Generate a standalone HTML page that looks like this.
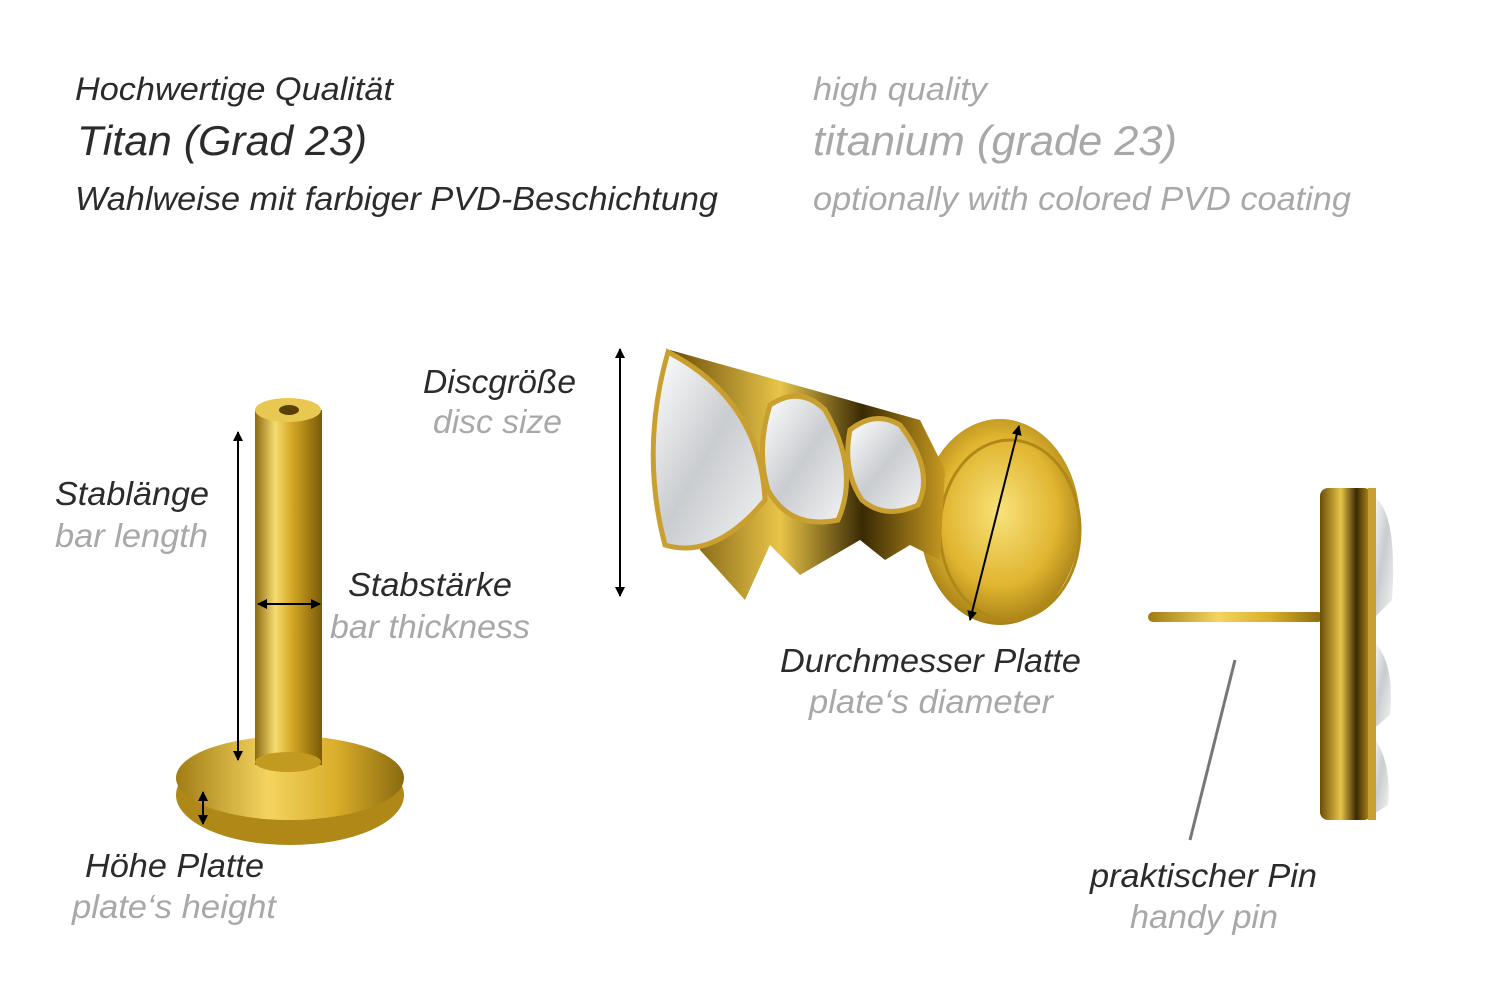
<!DOCTYPE html>
<html><head><meta charset="utf-8"><style>
html,body{margin:0;padding:0;background:#fff;width:1500px;height:1001px;overflow:hidden}
svg{display:block}
text{font-family:"Liberation Sans",sans-serif;font-style:italic}
.k{fill:#2b2b2b}.g{fill:#a8a8a8}
</style></head><body>
<svg width="1500" height="1001" viewBox="0 0 1500 1001">
<defs>
<linearGradient id="bar" x1="0" x2="1"><stop offset="0" stop-color="#8a6a10"/><stop offset=".3" stop-color="#f6dc70"/><stop offset=".55" stop-color="#d4a824"/><stop offset="1" stop-color="#7a5a08"/></linearGradient>
<linearGradient id="plate" x1="0" x2="1"><stop offset="0" stop-color="#a07c14"/><stop offset=".4" stop-color="#f4d460"/><stop offset=".7" stop-color="#d9ae2a"/><stop offset="1" stop-color="#8a6a10"/></linearGradient>
<radialGradient id="disc" cx=".5" cy=".45" r=".6"><stop offset="0" stop-color="#f8e27a"/><stop offset=".6" stop-color="#e0b530"/><stop offset="1" stop-color="#9a7410"/></radialGradient>
<linearGradient id="side" x1="0" x2="1"><stop offset="0" stop-color="#6a4e08"/><stop offset=".4" stop-color="#e8c448"/><stop offset=".7" stop-color="#3a2a04"/><stop offset="1" stop-color="#c89a20"/></linearGradient>
<linearGradient id="cry" x1="0" x2="1" y1="0" y2="1"><stop offset="0" stop-color="#ffffff"/><stop offset=".5" stop-color="#c9ccd0"/><stop offset="1" stop-color="#f3f3f3"/></linearGradient>
<marker id="a" viewBox="0 0 10 10" refX="9" refY="5" markerWidth="5" markerHeight="5" orient="auto-start-reverse"><path d="M0,0L10,5L0,10z" fill="#000"/></marker>
</defs>

<g lengthAdjust="spacingAndGlyphs">
<text x="75" y="100" font-size="32" class="k" textLength="318" lengthAdjust="spacingAndGlyphs">Hochwertige Qualität</text>
<text x="77" y="155" font-size="42" class="k" textLength="290" lengthAdjust="spacingAndGlyphs">Titan (Grad 23)</text>
<text x="75" y="210" font-size="33" class="k" textLength="643" lengthAdjust="spacingAndGlyphs">Wahlweise mit farbiger PVD-Beschichtung</text>
<text x="813" y="100" font-size="32" class="g" textLength="174" lengthAdjust="spacingAndGlyphs">high quality</text>
<text x="813" y="155" font-size="42" class="g" textLength="364" lengthAdjust="spacingAndGlyphs">titanium (grade 23)</text>
<text x="813" y="210" font-size="33" class="g" textLength="538" lengthAdjust="spacingAndGlyphs">optionally with colored PVD coating</text>
</g>

<!-- left labret -->
<ellipse cx="290" cy="795" rx="114" ry="50" fill="#b08818"/>
<ellipse cx="290" cy="778" rx="114" ry="42" fill="url(#plate)"/>
<rect x="255" y="410" width="67" height="355" fill="url(#bar)"/>
<ellipse cx="288" cy="762" rx="33" ry="10" fill="#c39a20"/>
<ellipse cx="288" cy="410" rx="33" ry="12" fill="#e8c850"/>
<ellipse cx="289" cy="410" rx="10" ry="5" fill="#5a4006"/>
<line x1="238" y1="432" x2="238" y2="760" stroke="#000" stroke-width="2" marker-start="url(#a)" marker-end="url(#a)"/>
<line x1="258" y1="604" x2="320" y2="604" stroke="#000" stroke-width="2" marker-start="url(#a)" marker-end="url(#a)"/>
<line x1="203" y1="792" x2="203" y2="824" stroke="#000" stroke-width="2" marker-start="url(#a)" marker-end="url(#a)"/>

<text x="55" y="505" font-size="33" class="k" textLength="154" lengthAdjust="spacingAndGlyphs">Stablänge</text>
<text x="55" y="547" font-size="33" class="g" textLength="153" lengthAdjust="spacingAndGlyphs">bar length</text>
<text x="348" y="596" font-size="33" class="k" textLength="164" lengthAdjust="spacingAndGlyphs">Stabstärke</text>
<text x="330" y="638" font-size="33" class="g" textLength="200" lengthAdjust="spacingAndGlyphs">bar thickness</text>
<text x="85" y="877" font-size="33" class="k" textLength="179" lengthAdjust="spacingAndGlyphs">Höhe Platte</text>
<text x="72" y="918" font-size="33" class="g" textLength="204" lengthAdjust="spacingAndGlyphs">plate‘s height</text>

<!-- middle -->
<ellipse cx="1000" cy="522" rx="80" ry="103" fill="url(#disc)"/>
<ellipse cx="1010" cy="530" rx="70" ry="90" fill="none" stroke="#b08818" stroke-width="3"/>
<path d="M670,350 L920,420 L945,470 L940,560 L910,545 L885,560 L860,540 L800,575 L770,545 L745,600 L700,550 Z" fill="url(#side)"/>
<path d="M668,352 Q640,450 665,545 Q715,560 765,500 Q760,400 668,352Z" fill="url(#cry)" stroke="#c9a030" stroke-width="5"/>
<path d="M770,405 Q800,385 825,410 Q860,470 838,520 Q790,530 768,490 Q756,450 770,405Z" fill="url(#cry)" stroke="#c9a030" stroke-width="5"/>
<path d="M850,430 Q875,410 900,425 Q935,470 918,505 Q885,520 862,500 Q842,470 850,430Z" fill="url(#cry)" stroke="#c9a030" stroke-width="5"/>
<line x1="620" y1="349" x2="620" y2="596" stroke="#000" stroke-width="2" marker-start="url(#a)" marker-end="url(#a)"/>
<line x1="1019" y1="426" x2="970" y2="620" stroke="#000" stroke-width="2" marker-start="url(#a)" marker-end="url(#a)"/>

<text x="423" y="393" font-size="33" class="k" textLength="153" lengthAdjust="spacingAndGlyphs">Discgröße</text>
<text x="433" y="433" font-size="33" class="g" textLength="129" lengthAdjust="spacingAndGlyphs">disc size</text>
<text x="780" y="672" font-size="33" class="k" textLength="301" lengthAdjust="spacingAndGlyphs">Durchmesser Platte</text>
<text x="809" y="713" font-size="33" class="g" textLength="244" lengthAdjust="spacingAndGlyphs">plate‘s diameter</text>

<!-- right -->
<rect x="1148" y="612" width="175" height="10" rx="5" fill="url(#plate)"/>
<rect x="1320" y="488" width="52" height="332" rx="8" fill="url(#side)"/>
<path d="M1372,495 Q1398,510 1392,600 L1372,620Z" fill="url(#cry)"/>
<path d="M1372,640 Q1395,660 1390,715 L1372,730Z" fill="url(#cry)"/>
<path d="M1372,735 Q1392,760 1388,805 L1372,815Z" fill="url(#cry)"/>
<rect x="1368" y="488" width="8" height="332" fill="#c9a030"/>
<line x1="1235" y1="660" x2="1190" y2="840" stroke="#777" stroke-width="3"/>
<text x="1090" y="887" font-size="33" class="k" textLength="227" lengthAdjust="spacingAndGlyphs">praktischer Pin</text>
<text x="1130" y="928" font-size="33" class="g" textLength="148" lengthAdjust="spacingAndGlyphs">handy pin</text>
</svg>
</body></html>
